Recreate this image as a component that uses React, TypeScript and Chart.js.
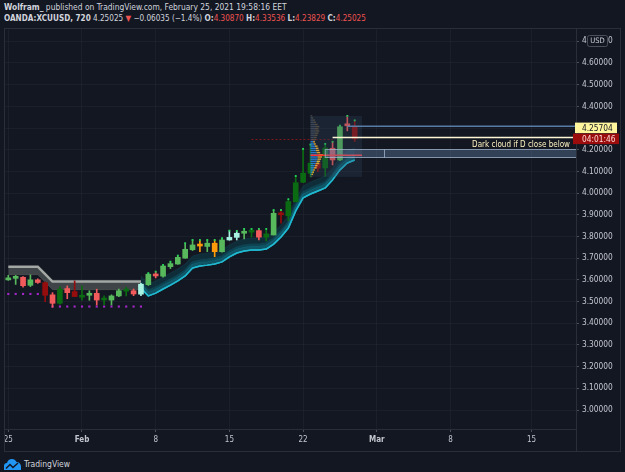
import React, { useEffect, useRef } from 'react';
import { Chart, registerables } from 'chart.js';

Chart.register(...registerables);

const FONT = '"Liberation Sans Narrow", "Arial Narrow", "DejaVu Sans Condensed", "Roboto Condensed", sans-serif';
const BG = '#131722';
const TXT = '#d1d4dc';
const RED = '#ef5350';

// time axis (bar index -> label)
const dateTickIndex = [0, 10, 20, 30, 40, 50, 60, 71];
const dateTickLabels = ['25', 'Feb', '8', '15', '22', 'Mar', '8', '15'];
const monthLabels = ['Feb', 'Mar'];
const priceTicks = [3.0, 3.1, 3.2, 3.3, 3.4, 3.5, 3.6, 3.7, 3.8, 3.9, 4.0, 4.1, 4.2, 4.3, 4.4, 4.5, 4.6, 4.7];

// 12h candles, Jan 25 -> Feb 25 2021
const opens = [3.600, 3.607, 3.612, 3.575, 3.600, 3.587, 3.531, 3.492, 3.560, 3.546,
  3.520, 3.529, 3.538, 3.507, 3.507, 3.526, 3.548, 3.550, 3.534, 3.578,
  3.626, 3.617, 3.661, 3.673, 3.700, 3.739, 3.760, 3.754, 3.769, 3.730,
  3.784, 3.796, 3.815, 3.820, 3.827, 3.797, 3.807, 3.907, 3.895, 3.960,
  4.050, 4.092, 4.138, 4.116, 4.207, 4.153, 4.316, 4.3087];
const highs = [3.621, 3.621, 3.615, 3.623, 3.605, 3.590, 3.541, 3.569, 3.572, 3.595,
  3.572, 3.550, 3.557, 3.526, 3.531, 3.557, 3.566, 3.558, 3.584, 3.631,
  3.638, 3.669, 3.684, 3.712, 3.769, 3.784, 3.784, 3.784, 3.784, 3.792,
  3.827, 3.826, 3.835, 3.835, 3.835, 3.835, 3.922, 3.922, 3.972, 4.079,
  4.204, 4.224, 4.145, 4.227, 4.237, 4.311, 4.356, 4.33536];
const lows = [3.598, 3.579, 3.566, 3.569, 3.584, 3.499, 3.474, 3.488, 3.513, 3.523,
  3.506, 3.506, 3.484, 3.484, 3.484, 3.522, 3.526, 3.527, 3.527, 3.574,
  3.609, 3.612, 3.652, 3.672, 3.700, 3.735, 3.730, 3.730, 3.707, 3.728,
  3.783, 3.784, 3.789, 3.797, 3.784, 3.779, 3.807, 3.861, 3.873, 3.960,
  4.048, 4.075, 4.099, 4.078, 4.130, 4.150, 4.287, 4.23829];
const closes = [3.609, 3.612, 3.573, 3.600, 3.588, 3.529, 3.492, 3.557, 3.541, 3.523,
  3.526, 3.538, 3.507, 3.515, 3.526, 3.550, 3.550, 3.535, 3.580, 3.626,
  3.618, 3.664, 3.675, 3.704, 3.741, 3.761, 3.756, 3.769, 3.730, 3.784,
  3.796, 3.815, 3.822, 3.827, 3.797, 3.812, 3.907, 3.900, 3.961, 4.048,
  4.092, 4.138, 4.115, 4.208, 4.153, 4.306, 4.3106, 4.25025];
// candle colouring class: G light green, D dark green, R light red, K dark red, C pale cyan, O orange
const kinds = ['G', 'G', 'R', 'G', 'R', 'K', 'R', 'D', 'R', 'K',
  'D', 'G', 'R', 'D', 'G', 'G', 'D', 'R', 'C', 'G',
  'R', 'G', 'G', 'G', 'G', 'G', 'O', 'G', 'O', 'G',
  'C', 'C', 'G', 'D', 'R', 'D', 'G', 'K', 'D', 'D',
  'D', 'D', 'K', 'D', 'R', 'G', 'R', 'K'];

// grey cloud (bars 0..18)
const cloudTop = [3.661, 3.661, 3.661, 3.661, 3.661, 3.627, 3.592, 3.592, 3.592, 3.592,
  3.592, 3.592, 3.592, 3.592, 3.592, 3.592, 3.592, 3.592, 3.592];
const cloudBottom = [3.624, 3.624, 3.624, 3.624, 3.624, 3.590, 3.555, 3.555, 3.555, 3.555,
  3.555, 3.555, 3.555, 3.555, 3.555, 3.555, 3.555, 3.555, 3.555];
// purple dots (bars 0..18)
const dotLevels = [3.535, 3.535, 3.535, 3.535, 3.535, null, 3.477, 3.477, 3.477, 3.477,
  3.477, 3.477, 3.477, 3.477, 3.477, 3.477, 3.477, 3.477, 3.477];
// teal trailing band (bars 18..47)
const bandFrom = 18;
const bandUpper = [3.618, 3.581, 3.595, 3.613, 3.632, 3.650, 3.673, 3.710, 3.719, 3.723,
  3.729, 3.738, 3.761, 3.779, 3.789, 3.793, 3.793, 3.798, 3.821, 3.853,
  3.894, 3.973, 4.033, 4.051, 4.065, 4.079, 4.116, 4.162, 4.194, 4.208];
const bandLower = [3.563, 3.526, 3.539, 3.558, 3.576, 3.595, 3.618, 3.655, 3.664, 3.668,
  3.673, 3.683, 3.706, 3.724, 3.733, 3.738, 3.738, 3.742, 3.765, 3.798,
  3.839, 3.918, 3.978, 3.996, 4.010, 4.024, 4.061, 4.107, 4.139, 4.153];
const tipsFrom = 19;

// visible range volume profile (bars 41..47)
const profileFrom = 41;
const profileTo = 47;
const profileStep = 0.01;
const profilePrice = [4.075, 4.085, 4.095, 4.105, 4.115, 4.125, 4.135, 4.145, 4.155, 4.165,
  4.175, 4.185, 4.195, 4.205, 4.215, 4.225, 4.235, 4.245, 4.255, 4.265,
  4.275, 4.285, 4.295, 4.305, 4.315, 4.325, 4.335, 4.345, 4.355];
const profileUp = [1, 1, 2, 3, 4, 5, 6, 7, 8, 8, 9, 7, 6, 6, 5, 4, 3, 3, 4, 5, 5, 6, 5, 6, 5, 4, 3, 2, 1];
const profileDown = [1, 2, 2, 2, 3, 3, 4, 4, 4, 5, 5, 4, 4, 3, 3, 2, 2, 3, 3, 3, 4, 4, 4, 4, 3, 2, 2, 1, 1];
const valueArea = [4.085, 4.235];

// drawings
const dottedLevel = 4.25;
const dottedRange = [33, 44];
const alertLevel = 4.25704;
const alertFrom = 44;
const openLineFrom = 46;
const zone = [4.165, 4.203];
const zoneFrom = 43;
const zoneSplit = 51;
const zoneText = 'Dark cloud if D close below';
const countdown = '04:01:46';

const KIND_COLORS: Record<string, string> = {
  G: '#58b85c', D: '#0a6b12', R: '#f25b5b', K: '#960d0d', C: '#a8f2e2', O: '#ff9a0a',
};

// plot geometry in bar units
const X_MIN = -0.5834;
const X_MAX = 77.029;
const Y_MIN = 2.9124;
const Y_MAX = 4.76137;
const BAND_DATASET = 3;

const overlayPlugin = {
  id: 'overlay',
  beforeDraw(chart: any) {
    const { ctx, width, height } = chart;
    ctx.save();
    ctx.fillStyle = BG;
    ctx.fillRect(0, 0, width, height);
    ctx.restore();
  },
  afterDatasetDraw(chart: any, args: any) {
    if (args.index !== BAND_DATASET) return;
    const pts = args.meta.data;
    if (!pts || !pts.length) return;
    const { ctx } = chart;
    const path = (dy: number) => {
      ctx.beginPath();
      pts.forEach((p: any, k: number) => (k ? ctx.lineTo(p.x, p.y - dy) : ctx.moveTo(p.x, p.y - dy)));
    };
    ctx.save();
    ctx.lineJoin = 'round';
    ctx.lineWidth = 3;
    ctx.strokeStyle = 'rgba(14,95,112,0.45)';
    path(5);
    ctx.stroke();
    ctx.strokeStyle = 'rgba(16,120,140,0.55)';
    path(2.5);
    ctx.stroke();
    ctx.lineWidth = 1.5;
    ctx.strokeStyle = '#20b9d0';
    path(0);
    ctx.stroke();
    ctx.restore();
  },
  afterDatasetsDraw(chart: any) {
    const { ctx, chartArea: a, scales } = chart;
    const X = (v: number) => scales.x.getPixelForValue(v);
    const Y = (v: number) => scales.y.getPixelForValue(v);
    const last = opens.length - 1;
    ctx.save();
    ctx.beginPath();
    ctx.rect(a.left, a.top, a.right - a.left, a.bottom - a.top);
    ctx.clip();

    // dotted level
    ctx.strokeStyle = '#7d1717';
    ctx.lineWidth = 1;
    ctx.setLineDash([2, 2]);
    ctx.beginPath();
    const dy = Math.round(Y(dottedLevel)) + 0.5;
    ctx.moveTo(X(dottedRange[0]), dy);
    ctx.lineTo(X(dottedRange[1]), dy);
    ctx.stroke();
    ctx.setLineDash([]);

    // volume profile (visible range: first bar time -> one bar past the last)
    const hi = Math.max(...highs.slice(profileFrom, profileTo + 1));
    const lo = Math.min(...lows.slice(profileFrom, profileTo + 1));
    const bx0 = X(profileFrom);
    const bx1 = X(profileTo + 1);
    ctx.fillStyle = 'rgba(48,72,98,0.28)';
    ctx.fillRect(bx0, Y(hi), bx1 - bx0, Y(lo) - Y(hi));
    const totals = profileUp.map((u, k) => u + profileDown[k]);
    const maxT = Math.max(...totals);
    const maxW = (bx1 - bx0) * 0.24;
    profilePrice.forEach((p, k) => {
      const yt = Y(p + profileStep / 2);
      const yb = Y(p - profileStep / 2);
      const h = Math.max(1, yb - yt - 0.7);
      const inVA = p >= valueArea[0] && p <= valueArea[1];
      const wu = (profileUp[k] / maxT) * maxW;
      const wd = (profileDown[k] / maxT) * maxW;
      ctx.fillStyle = inVA ? 'rgba(41,140,230,0.85)' : 'rgba(110,120,135,0.42)';
      ctx.fillRect(bx0, yt, wu, h);
      ctx.fillStyle = inVA ? 'rgba(245,180,55,0.85)' : 'rgba(160,130,90,0.42)';
      ctx.fillRect(bx0 + wu, yt, wd, h);
    });
    const poc = profilePrice[totals.indexOf(maxT)];
    ctx.strokeStyle = '#ff2a2a';
    ctx.lineWidth = 1.5;
    ctx.beginPath();
    ctx.moveTo(bx0, Y(poc));
    ctx.lineTo(bx1, Y(poc));
    ctx.stroke();

    // zone
    const zx0 = X(zoneFrom);
    const zy0 = Math.round(Y(zone[1])) + 0.5;
    const zy1 = Math.round(Y(zone[0])) + 0.5;
    ctx.fillStyle = 'rgba(105,135,170,0.38)';
    ctx.fillRect(zx0, zy0, a.right - zx0, zy1 - zy0);
    ctx.strokeStyle = 'rgba(165,185,210,0.75)';
    ctx.lineWidth = 1;
    ctx.strokeRect(zx0, zy0, a.right - zx0 + 2, zy1 - zy0);
    const sx = Math.round(X(zoneSplit)) + 0.5;
    ctx.beginPath();
    ctx.moveTo(sx, zy0);
    ctx.lineTo(sx, zy1);
    ctx.stroke();

    // last open line
    ctx.strokeStyle = 'rgba(95,135,180,0.9)';
    ctx.lineWidth = 1.5;
    ctx.beginPath();
    ctx.moveTo(X(openLineFrom), Y(opens[last]));
    ctx.lineTo(a.right, Y(opens[last]));
    ctx.stroke();

    // alert line
    ctx.strokeStyle = '#fff6d5';
    ctx.lineWidth = 1.5;
    ctx.beginPath();
    ctx.moveTo(X(alertFrom), Y(alertLevel));
    ctx.lineTo(a.right, Y(alertLevel));
    ctx.stroke();

    ctx.font = `8px ${FONT}`;
    ctx.fillStyle = '#fff2c0';
    ctx.textAlign = 'right';
    ctx.textBaseline = 'alphabetic';
    ctx.fillText(zoneText, a.right - 6, zy0 - 2.5);
    ctx.restore();
  },
  afterDraw(chart: any) {
    const { ctx, chartArea: a, scales, width, height } = chart;
    const Y = (v: number) => scales.y.getPixelForValue(v);
    const last = closes.length - 1;
    ctx.save();
    // separator through the time axis
    ctx.strokeStyle = '#2a2e39';
    ctx.lineWidth = 1;
    ctx.beginPath();
    ctx.moveTo(Math.round(a.right) + 0.5, a.bottom);
    ctx.lineTo(Math.round(a.right) + 0.5, height);
    ctx.stroke();

    const lh = 10.5;
    const yc = Y(closes[last]);
    ctx.font = `8.3px ${FONT}`;
    ctx.textAlign = 'left';
    ctx.textBaseline = 'middle';
    ctx.fillStyle = '#9b0c0c';
    ctx.fillRect(a.right - 3, yc - lh / 2, 46, lh);
    ctx.fillStyle = '#ffd6d6';
    ctx.fillText(countdown, a.right + 6, yc + 0.5);
    const yy = yc - lh - 0.5;
    ctx.fillStyle = '#fff59d';
    ctx.fillRect(a.right - 1, yy - lh / 2, 42, lh);
    ctx.fillStyle = '#131722';
    ctx.fillText(alertLevel.toFixed(5), a.right + 6, yy + 0.5);

    // USD box
    const ux = a.right + 11;
    const uy = 7;
    ctx.fillStyle = BG;
    ctx.strokeStyle = '#4a4e5a';
    ctx.beginPath();
    ctx.roundRect(ux + 0.5, uy + 0.5, 20, 11, 2);
    ctx.fill();
    ctx.stroke();
    ctx.fillStyle = TXT;
    ctx.font = `7.5px ${FONT}`;
    ctx.textAlign = 'center';
    ctx.fillText('USD', ux + 10.5, uy + 6.5);

    // frame
    ctx.strokeStyle = '#2a2e39';
    ctx.strokeRect(0.5, 0.5, width - 1, height - 1);
    ctx.restore();
  },
};

export default function App() {
  const ref = useRef<HTMLCanvasElement>(null);
  const last = closes.length - 1;
  const change = closes[last] - closes[last - 1];
  const pct = (change / closes[last - 1]) * 100;
  const fmt = (v: number) => v.toFixed(5);
  const signed = (s: string) => s.replace('-', '\u2212');

  useEffect(() => {
    document.body.style.margin = '0';
    document.body.style.background = BG;
    const idx = opens.map((_, i) => i);
    const colors = kinds.map((k) => KIND_COLORS[k]);
    const chart = new Chart(ref.current as HTMLCanvasElement, {
      type: 'bar',
      data: {
        datasets: [
          {
            type: 'line',
            data: cloudTop.map((v, i) => ({ x: i, y: v })),
            borderColor: '#a3a8a4',
            borderWidth: 2.5,
            pointRadius: 0,
            fill: '+1',
            backgroundColor: 'rgba(100,106,103,0.55)',
            order: 6,
          } as any,
          {
            type: 'line',
            data: cloudBottom.map((v, i) => ({ x: i, y: v })),
            borderColor: 'rgba(55,60,60,0.9)',
            borderWidth: 1,
            pointRadius: 0,
            fill: false,
            order: 6,
          } as any,
          {
            type: 'line',
            data: bandUpper.map((v, k) => ({ x: bandFrom + k, y: v })),
            borderColor: 'rgba(20,60,72,0.6)',
            borderWidth: 1,
            pointRadius: 0,
            fill: false,
            order: 6,
          } as any,
          {
            type: 'line',
            data: bandLower.map((v, k) => ({ x: bandFrom + k, y: v })),
            borderColor: '#20b9d0',
            borderWidth: 1.5,
            pointRadius: 0,
            fill: '-1',
            backgroundColor: 'rgba(12,62,76,0.55)',
            order: 6,
          } as any,
          {
            type: 'line',
            data: dotLevels.map((v, i) => ({ x: i, y: v })).filter((p) => p.y !== null),
            showLine: false,
            pointStyle: 'rect',
            pointRadius: 1.5,
            pointBorderWidth: 0,
            pointBackgroundColor: '#a425c8',
            order: 3,
          } as any,
          {
            type: 'line',
            data: idx.filter((i) => i >= tipsFrom).map((i) => ({ x: i, y: highs[i] })),
            showLine: false,
            pointStyle: 'rect',
            pointRadius: 1.3,
            pointBorderWidth: 0,
            pointBackgroundColor: '#27d35a',
            order: 0,
          } as any,
          {
            type: 'bar',
            data: idx.map((i) => ({ x: i, y: [lows[i], highs[i]] })),
            backgroundColor: colors,
            barThickness: 1,
            grouped: false,
            order: 2,
          } as any,
          {
            type: 'bar',
            data: idx.map((i) => ({ x: i, y: [Math.min(opens[i], closes[i]), Math.max(opens[i], closes[i])] })),
            backgroundColor: colors,
            barThickness: 5,
            minBarLength: 2,
            grouped: false,
            order: 1,
          } as any,
        ],
      },
      options: {
        animation: false,
        responsive: false,
        devicePixelRatio: 1,
        layout: { padding: 0, autoPadding: false },
        plugins: { legend: { display: false }, tooltip: { enabled: false } },
        scales: {
          x: {
            type: 'linear',
            min: X_MIN,
            max: X_MAX,
            offset: false,
            afterBuildTicks: (s: any) => {
              s.ticks = dateTickIndex.map((v) => ({ value: v }));
            },
            afterFit: (s: any) => {
              s.height = 23;
              s.paddingLeft = 0;
              s.paddingRight = 0;
            },
            grid: { color: 'rgba(42,46,57,0.35)', tickColor: '#4c505b', tickLength: 3, offset: false },
            border: { color: '#2a2e39' },
            ticks: {
              autoSkip: false,
              maxRotation: 0,
              padding: 3,
              color: '#c3c6ce',
              font: (c: any) => ({
                family: FONT,
                size: 8,
                weight: c.tick && monthLabels.includes(c.tick.label) ? 'bold' : 'normal',
              }),
              callback: (v: any) => {
                const k = dateTickIndex.indexOf(Number(v));
                return k >= 0 ? dateTickLabels[k] : '';
              },
            },
          },
          y: {
            type: 'linear',
            position: 'right',
            min: Y_MIN,
            max: Y_MAX,
            afterBuildTicks: (s: any) => {
              s.ticks = priceTicks.map((v) => ({ value: v }));
            },
            afterFit: (s: any) => {
              s.width = 45;
              s.paddingTop = 0;
              s.paddingBottom = 0;
            },
            grid: { color: 'rgba(42,46,57,0.35)', tickColor: '#4c505b', tickLength: 3 },
            border: { color: '#2a2e39' },
            ticks: {
              padding: 3,
              color: '#c3c6ce',
              font: { family: FONT, size: 8.3 },
              callback: (v: any) => Number(v).toFixed(5),
            },
          },
        },
      } as any,
      plugins: [overlayPlugin],
    });
    return () => chart.destroy();
  }, []);

  return (
    <div style={{ position: 'relative', width: 625, height: 472, background: BG, overflow: 'hidden', fontFamily: FONT }}>
      <div style={{ position: 'absolute', left: 4, top: 2, lineHeight: '11px', color: TXT, whiteSpace: 'nowrap' }}>
        <div style={{ fontSize: 8.4 }}>
          <b>Wolfram_</b> published on TradingView.com, February 25, 2021 19:58:16 EET
        </div>
        <div style={{ fontSize: 8.1 }}>
          <b>OANDA:XCUUSD, 720</b> {fmt(closes[last])} <span style={{ color: RED }}>▼</span>{' '}
          {signed(change.toFixed(5))} ({signed(pct.toFixed(1))}%) <b>O:</b>
          <span style={{ color: RED }}>{fmt(opens[last])}</span> <b>H:</b>
          <span style={{ color: RED }}>{fmt(highs[last])}</span> <b>L:</b>
          <span style={{ color: RED }}>{fmt(lows[last])}</span> <b>C:</b>
          <span style={{ color: RED }}>{fmt(closes[last])}</span>
        </div>
      </div>
      <canvas ref={ref} width={617} height={424} style={{ position: 'absolute', left: 4, top: 28, width: 617, height: 424 }} />
      <div style={{ position: 'absolute', left: 4, top: 458, display: 'flex', alignItems: 'center', gap: 3, color: TXT, fontSize: 8.5 }}>
        <svg width="17" height="12" viewBox="0 0 17 12">
          <path d="M0 12 L0 8 Q0 5 3 5 Q4 1 8 1 Q11 1 12.5 4 Q16 4 17 8 L17 12 Z" fill="#2196f3" />
          <polyline points="2,10.5 6,6.5 9,9.5 14,5" stroke="#131722" fill="none" strokeWidth="1.5" />
        </svg>
        <span>TradingView</span>
      </div>
    </div>
  );
}
